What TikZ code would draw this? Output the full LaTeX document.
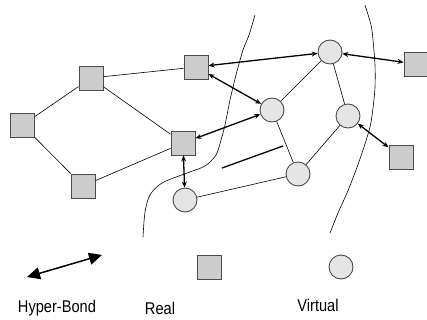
\documentclass[tikz,border=0pt]{standalone}
\usepackage{fontspec}
\setmainfont{Liberation Sans}
\usetikzlibrary{arrows.meta}
\newcommand{\lbltext}[1]{\scalebox{0.86}[1]{\fontsize{17}{20}\selectfont #1}}
\begin{document}
\begin{tikzpicture}[x=1pt,y=-1pt,
  real/.style={draw=black!70,fill=black!20,line width=0.9pt,minimum size=24pt,inner sep=0pt,rectangle},
  virt/.style={draw=black!70,fill=black!10,line width=0.9pt,minimum size=24pt,inner sep=0pt,circle},
  edge/.style={line width=0.6pt,black},
  hbond/.style={line width=1.3pt,{Stealth[length=6pt,width=5pt]}-{Stealth[length=6pt,width=5pt]}},
  border/.style={line width=0.6pt,black},
  lbl/.style={inner sep=0pt}]
\useasboundingbox (0,0) rectangle (427,320);
% boundary curves
\draw[border] plot[smooth] coordinates {(255,15) (249,35) (243,50) (236,75) (230,100) (225,125) (221,140) (216,155) (205,166) (187,173) (162,183) (150,195) (145,212) (143,237)};
\draw[border] plot[smooth] coordinates {(365,5) (371,25) (373,40) (375,65) (375,87) (373,108) (370,127) (363,150) (356,170) (347,193) (338,213) (330,233)};
% nodes
\node[real] (s1) at (22.5,125) {};
\node[real] (s2) at (91,78) {};
\node[real] (s3) at (83,186) {};
\node[real] (s4) at (196,67) {};
\node[real] (s5) at (183,143) {};
\node[real] (s6) at (416,64) {};
\node[real] (s7) at (401,157) {};
\node[virt] (c1) at (330,52) {};
\node[virt] (c2) at (272,110) {};
\node[virt] (c3) at (348,116) {};
\node[virt] (c4) at (298,174) {};
\node[virt] (c5) at (185,200) {};
% thin edges
\draw[edge] (s1) -- (s2);
\draw[edge] (s1) -- (s3);
\draw[edge] (s2) -- (s4);
\draw[edge] (s2) -- (s5);
\draw[edge] (s3) -- (s5);
\draw[edge] (c5) -- (c4);
\draw[edge] (c2) -- (c1);
\draw[edge] (c1) -- (c3);
\draw[edge] (c2) -- (c4);
\draw[edge] (c3) -- (c4);
% hyper-bonds
\draw[hbond] (s4) -- (c1);
\draw[hbond] (s4) -- (c2);
\draw[hbond] (s5) -- (c2);
\draw[hbond] (s5) -- (c5);
\draw[hbond] (c1) -- (s6);
\draw[hbond] (c3) -- (s7);
% stray line
\coordinate (la) at (222,168);
\coordinate (lb) at (283,146);
\draw[line width=1.3pt] (la) -- (lb);
% legend
\coordinate (ha) at (27,277);
\coordinate (hb) at (102,255);
\draw[line width=1.5pt,{Triangle[length=13pt,width=12pt]}-{Triangle[length=13pt,width=12pt]}] (ha) -- (hb);
\node[real] (lr) at (209.5,267) {};
\node[virt] (lv) at (341,267) {};
\node[lbl] (t1) at (57,308) {\lbltext{Hyper-Bond}};
\node[lbl] (t2) at (160,308) {\lbltext{Real}};
\node[lbl] (t3) at (318,305) {\lbltext{Virtual}};
\end{tikzpicture}
\end{document}
